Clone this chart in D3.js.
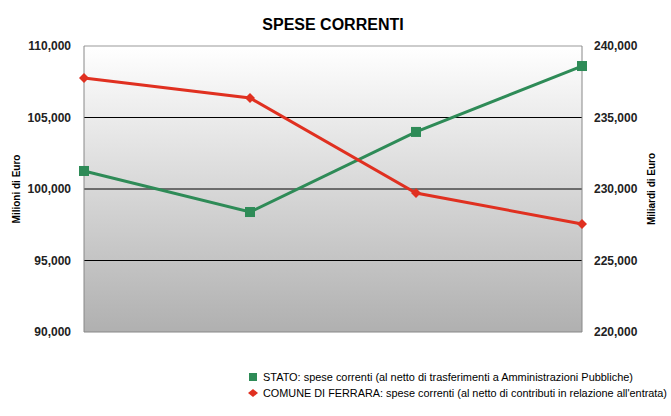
<!DOCTYPE html>
<html><head><meta charset="utf-8">
<script src="https://cdn.jsdelivr.net/npm/d3@7"></script>
<style>body{margin:0;background:#fff}text{font-family:"Liberation Sans Narrow","Liberation Sans",Arial,sans-serif}</style>
</head><body><svg id="c" width="671" height="416"></svg>
<script>
const periods = ["1", "2", "3", "4"];
const stato = [231260, 228390, 233990, 238600];   // right axis
const comune = [107760, 106360, 99720, 97550];    // left axis
const leftTicks = [90000, 95000, 100000, 105000, 110000];
const rightTicks = [220000, 225000, 230000, 235000, 240000];

const svg = d3.select('#c');
const m = {l: 84, r: 582, t: 46, b: 332};
const x = d3.scalePoint().domain(periods).range([m.l, m.r]);
const yL = d3.scaleLinear().domain([90000, 110000]).range([m.b, m.t]);
const yR = d3.scaleLinear().domain([220000, 240000]).range([m.b, m.t]);
const fmt = d3.format(',');

const grad = svg.append('defs').append('linearGradient').attr('id', 'g')
    .attr('x1', 0).attr('y1', 0).attr('x2', 0).attr('y2', 1);
grad.append('stop').attr('offset', 0).attr('stop-color', '#ffffff');
grad.append('stop').attr('offset', 1).attr('stop-color', '#b0b0b0');
svg.append('rect').attr('x', m.l).attr('y', m.t).attr('width', m.r - m.l).attr('height', m.b - m.t)
    .attr('fill', 'url(#g)');

// gridlines
svg.selectAll('.grid').data(leftTicks.slice(1, 4)).join('line')
    .attr('x1', m.l).attr('x2', m.r).attr('y1', d => yL(d)).attr('y2', d => yL(d))
    .attr('stroke', '#000').attr('stroke-width', 1);
svg.append('line').attr('x1', m.l).attr('x2', m.r).attr('y1', m.t).attr('y2', m.t).attr('stroke', '#999');
svg.append('line').attr('x1', m.l).attr('x2', m.r).attr('y1', m.b).attr('y2', m.b).attr('stroke', '#888');
svg.append('line').attr('x1', m.l).attr('x2', m.l).attr('y1', m.t).attr('y2', m.b).attr('stroke', '#888');
svg.append('line').attr('x1', m.r).attr('x2', m.r).attr('y1', m.t).attr('y2', m.b).attr('stroke', '#888');

svg.selectAll('.lt').data(leftTicks).join('text')
    .attr('x', 71).attr('y', d => yL(d) + 4).attr('text-anchor', 'end')
    .attr('font-size', 12).attr('font-weight', 'bold').attr('fill', '#222').text(fmt);
svg.selectAll('.rt').data(rightTicks).join('text')
    .attr('x', 594).attr('y', d => yR(d) + 4)
    .attr('font-size', 12).attr('font-weight', 'bold').attr('fill', '#222').text(fmt);

svg.append('text').attr('transform', 'translate(20,189) rotate(-90)').attr('text-anchor', 'middle')
    .attr('font-size', 10).attr('font-weight', 'bold').text('Milioni di Euro');
svg.append('text').attr('transform', 'translate(655,189) rotate(-90)').attr('text-anchor', 'middle')
    .attr('font-size', 10).attr('font-weight', 'bold').text('Miliardi di Euro');
svg.append('text').attr('x', 333).attr('y', 30).attr('text-anchor', 'middle')
    .attr('font-size', 16).attr('font-weight', 'bold').text('SPESE CORRENTI');

const green = '#2e8b57', red = '#e03020';
svg.append('path').datum(stato).attr('fill', 'none').attr('stroke', green).attr('stroke-width', 3)
    .attr('d', d3.line().x((d, i) => x(periods[i])).y(d => yR(d)));
svg.selectAll('.sq').data(stato).join('rect')
    .attr('x', (d, i) => x(periods[i]) - 5).attr('y', d => yR(d) - 5)
    .attr('width', 10).attr('height', 10).attr('fill', green);
svg.append('path').datum(comune).attr('fill', 'none').attr('stroke', red).attr('stroke-width', 3)
    .attr('d', d3.line().x((d, i) => x(periods[i])).y(d => yL(d)));
const diamond = 'M0,-5L5,0L0,5L-5,0Z';
svg.selectAll('.dm').data(comune).join('path')
    .attr('transform', (d, i) => `translate(${x(periods[i])},${yL(d)})`)
    .attr('d', diamond).attr('fill', red);

const legend = [
  {label: 'STATO: spese correnti (al netto di trasferimenti a Amministrazioni Pubbliche)', color: green, len: 370, d: 'M-4,-4H4V4H-4Z'},
  {label: "COMUNE DI FERRARA: spese correnti (al netto di contributi in relazione all'entrata)", color: red, len: 404, d: 'M0,-4L5,0L0,4L-5,0Z'}
];
const lg = svg.selectAll('.lg').data(legend).join('g')
    .attr('transform', (d, i) => `translate(253,${377 + i * 16})`);
lg.append('path').attr('d', d => d.d).attr('fill', d => d.color);
lg.append('text').attr('x', 10).attr('y', 4).attr('font-size', 11)
    .attr('textLength', d => d.len).attr('lengthAdjust', 'spacingAndGlyphs').text(d => d.label);
</script></body></html>
